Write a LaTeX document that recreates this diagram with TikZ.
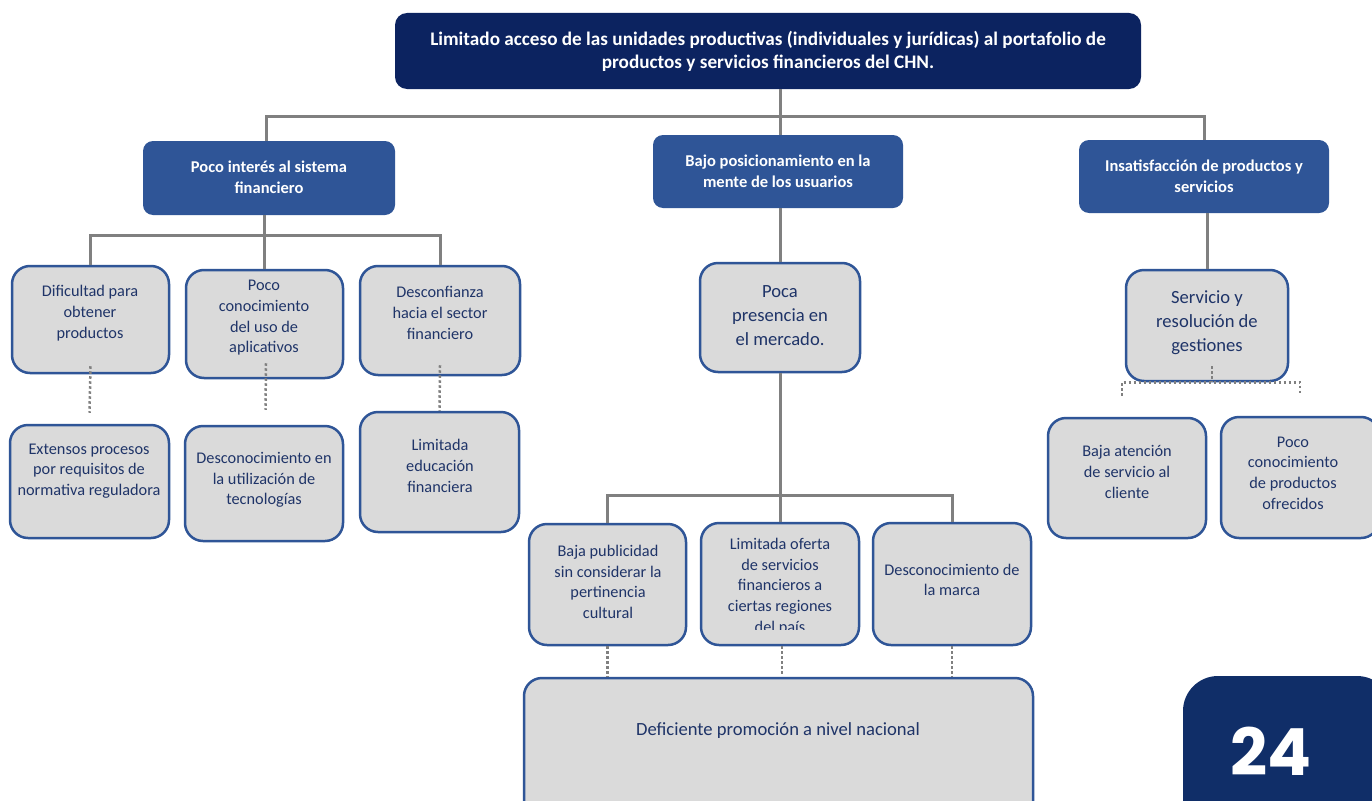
\documentclass[tikz,border=0pt]{standalone}
\usepackage{fontspec}
\setmainfont{Carlito}
\newfontfamily\popfont{Poppins}
\usetikzlibrary{calc}
\definecolor{navy}{RGB}{12,35,96}
\definecolor{pgnavy}{RGB}{16,46,104}
\definecolor{midblue}{RGB}{47,85,151}
\definecolor{boxgray}{RGB}{218,218,218}
\definecolor{boxblue}{RGB}{47,85,151}
\definecolor{textblue}{RGB}{31,52,104}
\definecolor{linegray}{RGB}{128,128,128}
\tikzset{
  topbox/.style={fill=navy, rounded corners=12pt, inner sep=0pt, outer sep=0pt},
  midbox/.style={fill=midblue, rounded corners=10pt, inner sep=0pt, outer sep=0pt},
  graybox/.style={fill=boxgray, draw=boxblue, line width=2.5pt, rounded corners=18pt, inner sep=0pt},
  conn/.style={draw=linegray, line width=3pt},
  dots/.style={draw=linegray, line width=2.5pt, dash pattern=on 2.5pt off 2.5pt},
  txt/.style={align=center, text=textblue, font=\fontsize{16.3}{20.7}\selectfont, inner sep=0pt},
  bigtxt/.style={align=center, text=textblue, font=\fontsize{18.6}{24}\selectfont, inner sep=0pt},
  wtxt/.style={align=center, text=white, font=\bfseries\fontsize{16.5}{21}\selectfont, inner sep=0pt},
}
\begin{document}
\begin{tikzpicture}[x=1pt,y=-1pt]
\clip (0,0) rectangle (1372,800);
\fill[white] (0,0) rectangle (1372,800);

% top
\node[topbox, minimum width=746pt, minimum height=76pt] (T) at (768,51) {};
\node[align=center, text=white, font=\bfseries\fontsize{19.2}{23}\selectfont, inner sep=0pt] (Tt) at (768,51)
  {Limitado acceso de las unidades productivas (individuales y jurídicas) al portafolio de\\productos y servicios financieros del CHN.};

% level 2
\node[midbox, minimum width=252pt, minimum height=74pt] (P1) at (269,178) {};
\node[wtxt] (P1t) at (269,177) {Poco interés al sistema\\financiero};
\node[midbox, minimum width=250pt, minimum height=73pt] (P2) at (778,171.5) {};
\node[wtxt] (P2t) at (778,171) {Bajo posicionamiento en la\\mente de los usuarios};
\node[midbox, minimum width=250pt, minimum height=73pt] (P3) at (1204,176.5) {};
\node[wtxt] (P3t) at (1204,176) {Insatisfacción de productos y\\servicios};

% left subtree
\node[graybox, minimum width=157pt, minimum height=107pt] (A) at (90.5,319.5) {};
\node[txt] (At) at (90,313) {Dificultad para\\obtener\\productos};
\node[graybox, minimum width=157pt, minimum height=108pt] (B) at (264.5,324) {};
\node[txt] (Bt) at (264,318) {Poco\\conocimiento\\del uso de\\aplicativos};
\node[graybox, minimum width=160pt, minimum height=109pt] (C) at (440,320.5) {};
\node[txt] (Ct) at (440,313) {Desconfianza\\hacia el sector\\financiero};
\node[graybox, minimum width=159pt, minimum height=113pt] (D) at (89.5,481.5) {};
\node[txt] (Dt) at (89,471) {Extensos procesos\\por requisitos de\\normativa reguladora};
\node[graybox, minimum width=158pt, minimum height=115pt] (E) at (264,483.5) {};
\node[txt] (Et) at (264,480) {Desconocimiento en\\la utilización de\\tecnologías};
\node[graybox, minimum width=159pt, minimum height=120pt] (F) at (439.5,472) {};
\node[txt] (Ft) at (440,466) {Limitada\\educación\\financiera};

% middle subtree
\node[graybox, minimum width=160pt, minimum height=109pt] (G) at (780,317.5) {};
\node[bigtxt] (Gt) at (780,316) {Poca\\presencia en\\el mercado.};
\node[graybox, minimum width=157pt, minimum height=121pt] (H) at (607.5,584.5) {};
\node[txt] (Ht) at (608,582) {Baja publicidad\\sin considerar la\\pertinencia\\cultural};
\node[graybox, minimum width=158pt, minimum height=122pt] (I) at (780,584) {};
\begin{scope}
\clip (701,520) rectangle (859,629);
\node[txt, anchor=north] (It) at (780,538) {Limitada oferta\\de servicios\\financieros a\\ciertas regiones\\del país};
\end{scope}
\node[graybox, minimum width=158pt, minimum height=122pt] (J) at (952,584) {};
\node[txt] (Jt) at (952,580) {Desconocimiento de\\la marca};
\node[graybox, minimum width=509pt, minimum height=144pt] (K) at (778.5,750) {};
\node[bigtxt] (Kt) at (778,731) {Deficiente promoción a nivel nacional};

% right subtree
\node[graybox, minimum width=162pt, minimum height=111pt] (L) at (1207,325.5) {};
\node[bigtxt] (Lt) at (1207,323) {Servicio y\\resolución de\\gestiones};
\node[graybox, minimum width=158pt, minimum height=120pt] (M) at (1127,478) {};
\node[txt] (Mt) at (1127,472) {Baja atención\\de servicio al\\cliente};
\node[graybox, minimum width=158pt, minimum height=121pt] (N) at (1300,477.5) {};
\node[txt] (Nt) at (1293,473) {Poco\\conocimiento\\de productos\\ofrecidos};

% page number
\fill[pgnavy, rounded corners=35pt] (1183,676) rectangle (1392,840);
\node[text=white, font=\popfont\bfseries\fontsize{65}{65}\selectfont, inner sep=0pt] (pg) at (1271,751) {24};

% solid connectors
\coordinate (bus0) at (0,116);
\coordinate (bus1) at (0,235);
\coordinate (bus2) at (0,495);
\draw[conn] (T.south -| G.north) -- (P2.north -| G.north);
\draw[conn] ($(P1.north)+(-3,0)$) -- ($(P1.north |- bus0)+(-3,0)$) -- (P3.north |- bus0) -- (P3.north);
\draw[conn] (B.north |- P1.south) -- (B.north);
\draw[conn] (A.north) -- (A.north |- bus1) -- (C.north |- bus1) -- (C.north);
\draw[conn] (P2.south -| G.north) -- (G.north);
\draw[conn] (G.south) -- (G.south |- bus2);
\draw[conn] (H.north) -- (H.north |- bus2) -- (J.north |- bus2) -- (J.north);
\draw[conn] (I.north |- bus2) -- (I.north);
\draw[conn] (P3.south -| L.north) -- (L.north);

% dotted connectors
\draw[dots] ($(A.south)+(0,-8)$) -- ($(D.north)+(0,-11)$);
\draw[dots] ($(B.south)+(1.5,-16)$) -- ($(E.north)+(1.5,-15)$);
\draw[dots] ($(C.south)+(0,-11)$) -- (F.north);
\draw[dots] (H.south) -- (K.north -| H.south);
\draw[dots] ($(I.south)+(2,0)$) -- ($(K.north -| I.south)+(2,-2)$);
\draw[dots] (J.south) -- (K.north -| J.south);
\draw[dots] ($(L.south)+(5,-16)$) -- ($(L.south)+(5,0)$);
\draw[dots] ($(M.north)+(-5,-21)$) -- ($(M.north |- L.south)+(-5,0)$) -- ($(N.north |- L.south)$) -- ($(N.north)+(0,-21)$);
\end{tikzpicture}
\end{document}
